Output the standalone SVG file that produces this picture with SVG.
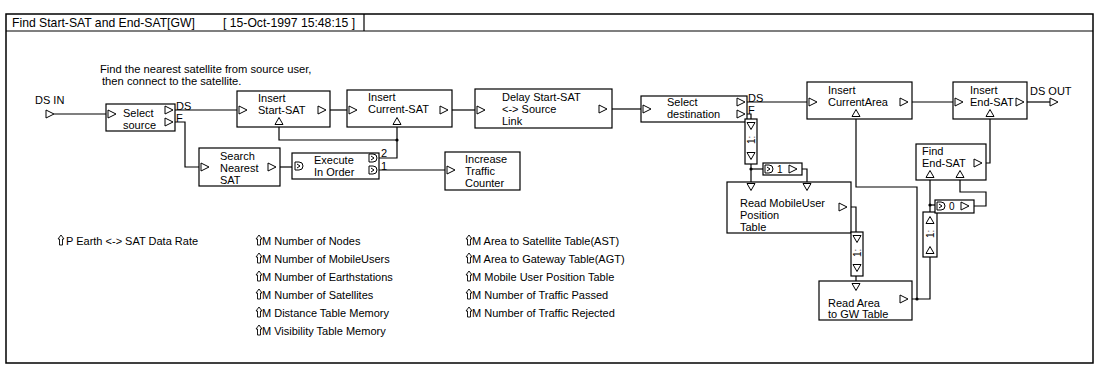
<svg xmlns="http://www.w3.org/2000/svg" xmlns:xlink="http://www.w3.org/1999/xlink" width="1096" height="367" viewBox="0 0 1096 367">
<style>
text{font-family:"Liberation Sans",Arial,sans-serif;font-size:11px;fill:#000}
.t{font-size:12.2px}
.s{font-size:11.2px}
.p{font-size:11px}
.n{font-size:10px}
.box{fill:#fff;stroke:#000;stroke-width:1.2}
.w{fill:none;stroke:#000;stroke-width:1.2}
.port{fill:#fff;stroke:#000;stroke-width:1}
.dot{fill:#000}
</style>
<defs>
<path id="tr" class="port" d="M0,-4 L8,0 L0,4 Z"/>
<path id="tu" class="port" d="M-4,3.5 L0,-3.5 L4,3.5 Z"/>
<path id="td" class="port" d="M-4,-3.5 L4,-3.5 L0,3.5 Z"/>
<path id="dp" class="port" d="M0,-4 L4,-4 A4,4 0 0 1 4,4 L0,4 Z M2,-2 L5,0 L2,2"/>
<path id="ar" fill="#fff" stroke="#000" stroke-width="0.9" d="M3,-10 L6,-6 L4.5,-6 L4.5,0 L1.5,0 L1.5,-6 L0,-6 Z"/>
</defs>

<g id="frame">
<rect x="6" y="14" width="1087" height="349" fill="none" stroke="#000" stroke-width="1.5"/>
<line x1="6" y1="31" x2="1093" y2="31" stroke="#000" stroke-width="1.2"/>
<line x1="364" y1="14" x2="364" y2="31" stroke="#000" stroke-width="1.2"/>
<text class="t" x="12" y="27">Find Start-SAT and End-SAT[GW]</text>
<text class="t" x="223" y="27">[ 15-Oct-1997 15:48:15 ]</text>
<text class="s" x="100" y="73">Find the nearest satellite from source user,</text>
<text class="s" x="102" y="85">then connect to the satellite.</text>
</g>

<g id="connectors">
<path class="w" d="M54,114 H108"/>
<path class="w" d="M175,110 H239"/>
<path class="w" d="M175,122 H185 V167 H201"/>
<path class="w" d="M330,110 H349"/>
<path class="w" d="M452,110 H477"/>
<path class="w" d="M612,109 H643"/>
<path class="w" d="M747,102 H809"/>
<path class="w" d="M912,102 H955"/>
<path class="w" d="M1027,102 H1050"/>
<path class="w" d="M280,167 H295"/>
<path class="w" d="M379,158 H397 V126"/>
<path class="w" d="M397,140 H279 V126"/>
<path class="w" d="M379,170 H447"/>
<path class="w" d="M745,114 H751 V119"/>
<path class="w" d="M751,164 V184"/>
<path class="w" d="M751,169 H763"/>
<path class="w" d="M802,169 H807 V184"/>
<path class="w" d="M851,207 H856 V232"/>
<path class="w" d="M856,276 V283"/>
<path class="w" d="M912,299 H930 V257"/>
<path class="w" d="M917,299 V187 H856 V118"/>
<path class="w" d="M930,212 V178"/>
<path class="w" d="M930,205 H935"/>
<path class="w" d="M986,163 H990 V118"/>
<path class="w" d="M960,178 V192 H986 V206 H974"/>
<circle class="dot" cx="397" cy="140" r="1.6"/>
<circle class="dot" cx="751" cy="169" r="1.6"/>
<circle class="dot" cx="917" cy="299" r="1.6"/>
<circle class="dot" cx="930" cy="205" r="1.6"/>
</g>

<g id="ds-in">
<text x="35" y="104">DS IN</text>
<use href="#tr" x="46" y="114"/>
</g>

<g id="select-source">
<rect class="box" x="106" y="104" width="69" height="27"/>
<use href="#tr" x="108" y="114"/>
<use href="#tr" x="165" y="110"/>
<use href="#tr" x="165" y="122"/>
<text x="123" y="117">Select</text>
<text x="123" y="129">source</text>
<text x="176" y="110">DS</text>
<text x="176" y="122">F</text>
</g>

<g id="insert-start-sat">
<rect class="box" x="237" y="91" width="93" height="36"/>
<use href="#tr" x="239" y="110"/>
<use href="#tr" x="318" y="110"/>
<use href="#tu" x="279" y="121"/>
<text x="258" y="102">Insert</text>
<text x="258" y="114">Start-SAT</text>
</g>

<g id="insert-current-sat">
<rect class="box" x="347" y="90" width="105" height="37"/>
<use href="#tr" x="349" y="110"/>
<use href="#tr" x="440" y="110"/>
<use href="#tu" x="397" y="121"/>
<text x="368" y="101">Insert</text>
<text x="368" y="113">Current-SAT</text>
</g>

<g id="delay">
<rect class="box" x="475" y="89" width="137" height="39"/>
<use href="#tr" x="477" y="110"/>
<use href="#tr" x="599" y="109"/>
<text x="502" y="101">Delay Start-SAT</text>
<text x="502" y="113">&lt;-&gt; Source</text>
<text x="502" y="125">Link</text>
</g>

<g id="select-destination">
<rect class="box" x="641" y="96" width="106" height="26"/>
<use href="#tr" x="643" y="109"/>
<use href="#tr" x="737" y="102"/>
<use href="#tr" x="737" y="114"/>
<text x="667" y="106">Select</text>
<text x="667" y="118">destination</text>
<text x="748" y="102">DS</text>
<text x="748" y="114">F</text>
</g>

<g id="insert-currentarea">
<rect class="box" x="807" y="82" width="105" height="37"/>
<use href="#tr" x="809" y="102"/>
<use href="#tr" x="900" y="102"/>
<use href="#tu" x="856" y="113"/>
<text x="828" y="94">Insert</text>
<text x="828" y="106">CurrentArea</text>
</g>

<g id="insert-end-sat">
<rect class="box" x="953" y="82" width="74" height="37"/>
<use href="#tr" x="955" y="102"/>
<use href="#tr" x="1016" y="102"/>
<use href="#tu" x="990" y="113"/>
<text x="970" y="94">Insert</text>
<text x="970" y="106">End-SAT</text>
</g>

<g id="ds-out">
<text x="1030" y="95">DS OUT</text>
<use href="#tr" x="1050" y="102"/>
</g>

<g id="search-nearest-sat">
<rect class="box" x="199" y="148" width="81" height="38"/>
<use href="#tr" x="201" y="167"/>
<use href="#tr" x="268" y="167"/>
<text x="220" y="160">Search</text>
<text x="220" y="172">Nearest</text>
<text x="220" y="184">SAT</text>
</g>

<g id="execute-in-order">
<rect class="box" x="292" y="153" width="87" height="26"/>
<use href="#dp" x="295" y="166"/>
<use href="#dp" x="369" y="158"/>
<use href="#dp" x="369" y="170"/>
<text x="314" y="164">Execute</text>
<text x="314" y="176">In Order</text>
<text x="381" y="157">2</text>
<text x="381" y="170">1</text>
</g>

<g id="increase-traffic-counter">
<rect class="box" x="445" y="152" width="75" height="38"/>
<use href="#tr" x="447" y="170"/>
<text x="465" y="163">Increase</text>
<text x="465" y="175">Traffic</text>
<text x="465" y="187">Counter</text>
</g>

<g id="delay-1a">
<rect class="box" x="745" y="119" width="12" height="45"/>
<use href="#td" x="751" y="126"/>
<use href="#td" x="751" y="156"/>
<text class="n" transform="translate(755,144) rotate(-90)">1:</text>
</g>

<g id="const-1">
<rect class="box" x="763" y="163" width="39" height="12"/>
<use href="#dp" x="765" y="169"/>
<text class="n" x="777" y="173">1</text>
<use href="#tr" x="789" y="169"/>
</g>

<g id="read-mobileuser">
<rect class="box" x="727" y="182" width="124" height="51"/>
<use href="#td" x="751" y="187"/>
<use href="#td" x="807" y="187"/>
<use href="#tr" x="839" y="207"/>
<text x="740" y="207">Read MobileUser</text>
<text x="740" y="219">Position</text>
<text x="740" y="231">Table</text>
</g>

<g id="delay-1b">
<rect class="box" x="851" y="232" width="12" height="44"/>
<use href="#td" x="857" y="239"/>
<use href="#td" x="857" y="268"/>
<text class="n" transform="translate(861,257) rotate(-90)">1:</text>
</g>

<g id="read-area">
<rect class="box" x="819" y="281" width="93" height="39"/>
<use href="#td" x="856" y="287"/>
<use href="#tr" x="900" y="299"/>
<text x="828" y="307">Read Area</text>
<text x="828" y="318">to GW Table</text>
</g>

<g id="delay-1c">
<rect class="box" x="923" y="212" width="14" height="45"/>
<use href="#tu" x="930" y="220"/>
<use href="#tu" x="930" y="250"/>
<text class="n" transform="translate(934,238) rotate(-90)">1:</text>
</g>

<g id="const-0">
<rect class="box" x="935" y="200" width="39" height="13"/>
<use href="#dp" x="937" y="206"/>
<text class="n" x="949" y="210">0</text>
<use href="#tr" x="961" y="206"/>
</g>

<g id="find-end-sat">
<rect class="box" x="916" y="144" width="70" height="36"/>
<use href="#tr" x="974" y="163"/>
<use href="#tu" x="930" y="174"/>
<use href="#tu" x="960" y="174"/>
<text x="922" y="155">Find</text>
<text x="922" y="167">End-SAT</text>
</g>

<g id="parameters">
<use href="#ar" x="58" y="245"/>
<text class="p" x="66" y="245">P  Earth &lt;-&gt; SAT Data Rate</text>
<use href="#ar" x="256" y="245"/>
<text class="p" x="262" y="245">M Number of Nodes</text>
<use href="#ar" x="256" y="263"/>
<text class="p" x="262" y="263">M Number of MobileUsers</text>
<use href="#ar" x="256" y="281"/>
<text class="p" x="262" y="281">M Number of Earthstations</text>
<use href="#ar" x="256" y="299"/>
<text class="p" x="262" y="299">M Number of Satellites</text>
<use href="#ar" x="256" y="317"/>
<text class="p" x="262" y="317">M Distance Table Memory</text>
<use href="#ar" x="256" y="335"/>
<text class="p" x="262" y="335">M Visibility Table Memory</text>
<use href="#ar" x="466" y="245"/>
<text class="p" x="472" y="245">M Area to Satellite Table(AST)</text>
<use href="#ar" x="466" y="263"/>
<text class="p" x="472" y="263">M Area to Gateway Table(AGT)</text>
<use href="#ar" x="466" y="281"/>
<text class="p" x="472" y="281">M Mobile User Position Table</text>
<use href="#ar" x="466" y="299"/>
<text class="p" x="472" y="299">M Number of Traffic Passed</text>
<use href="#ar" x="466" y="317"/>
<text class="p" x="472" y="317">M Number of Traffic Rejected</text>
</g>
</svg>
